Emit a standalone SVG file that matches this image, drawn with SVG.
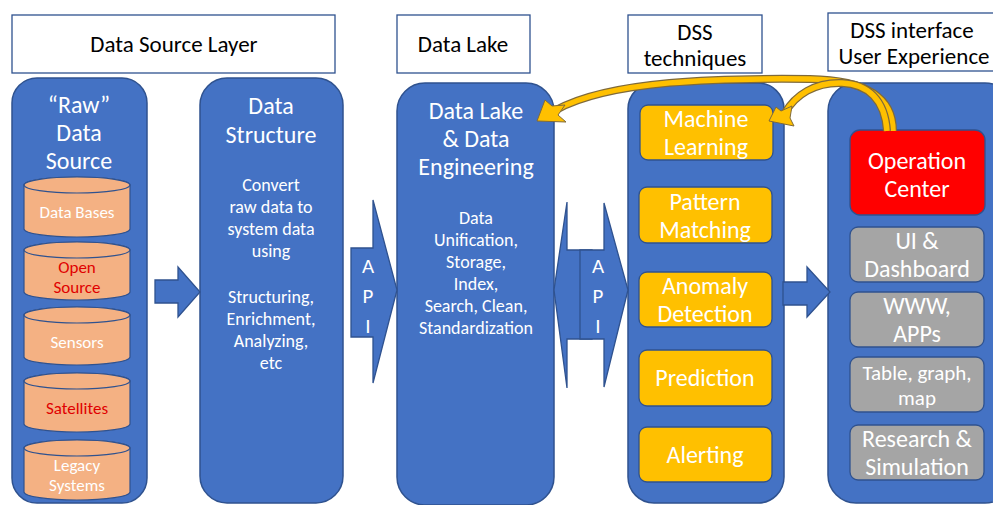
<svg xmlns="http://www.w3.org/2000/svg" width="993" height="505" viewBox="0 0 993 505">
<style>
.hdr{fill:#fff;stroke:#2F528F;stroke-width:1.3}
.col{fill:#4472C4;stroke:#2F528F;stroke-width:1.5}
.cyl{fill:#F4B183;stroke:#2F528F;stroke-width:1.2}
.yel{fill:#FFC000;stroke:#2F528F;stroke-width:1.3}
.gry{fill:#A5A5A5;stroke:#2F528F;stroke-width:1.3}
.red{fill:#FF0000;stroke:#2F528F;stroke-width:1.3}
.blk{fill:#4472C4;stroke:#2F528F;stroke-width:1.3}
text{font-family:Carlito,Lato,"Liberation Sans",sans-serif;text-anchor:middle}
.h{font-size:23px;fill:#000}
.t{font-size:24px;fill:#fff}
.b{font-size:18px;fill:#fff}
.c{font-size:17px;fill:#fff}
.cr{font-size:17px;fill:#E00000}
.k{font-size:24px;fill:#fff}
.api{font-size:21px;fill:#fff}
.ar1{fill:none;stroke:#7F6A3A;stroke-width:8;stroke-linecap:butt}
.ar2{fill:none;stroke:#FFC000;stroke-width:5.5;stroke-linecap:butt}
.ah{fill:#FFC000;stroke:#7F6A3A;stroke-width:1}
</style>

<g id="headers">
<g id="h-source"><rect class="hdr" x="12" y="15" width="323" height="58"/><text class="h" x="174" y="52">Data Source Layer</text></g>
<g id="h-lake"><rect class="hdr" x="397" y="15" width="133" height="58"/><text class="h" x="463" y="52">Data Lake</text></g>
<g id="h-dss"><rect class="hdr" x="628" y="15" width="134" height="58"/><text class="h" x="695" y="40">DSS</text><text class="h" x="695" y="66">techniques</text></g>
<g id="h-ui"><rect class="hdr" x="828" y="13" width="175" height="58"/><text class="h" x="912" y="38">DSS interface</text><text class="h" x="914" y="64">User Experience</text></g>
</g>

<g id="raw">
<rect class="col" x="12" y="78" width="135" height="425" rx="25"/>
<text class="t" x="79" y="113">“Raw”</text>
<text class="t" x="79" y="141">Data</text>
<text class="t" x="79" y="169">Source</text>
<g id="cyl-db"><path class="cyl" d="M24,185 A53,8 0 0 1 130,185 V229 A53,8 0 0 1 24,229 Z"/><ellipse class="cyl" cx="77" cy="185" rx="53" ry="8"/><text class="c" x="77" y="218">Data Bases</text></g>
<g id="cyl-os"><path class="cyl" d="M24,250 A53,8 0 0 1 130,250 V292 A53,8 0 0 1 24,292 Z"/><ellipse class="cyl" cx="77" cy="250" rx="53" ry="8"/><text class="cr" x="77" y="273">Open</text><text class="cr" x="77" y="293">Source</text></g>
<g id="cyl-sens"><path class="cyl" d="M24,315 A53,8 0 0 1 130,315 V357 A53,8 0 0 1 24,357 Z"/><ellipse class="cyl" cx="77" cy="315" rx="53" ry="8"/><text class="c" x="77" y="348">Sensors</text></g>
<g id="cyl-sat"><path class="cyl" d="M24,381 A53,8 0 0 1 130,381 V424 A53,8 0 0 1 24,424 Z"/><ellipse class="cyl" cx="77" cy="381" rx="53" ry="8"/><text class="cr" x="77" y="414">Satellites</text></g>
<g id="cyl-leg"><path class="cyl" d="M24,448 A53,8 0 0 1 130,448 V492 A53,8 0 0 1 24,492 Z"/><ellipse class="cyl" cx="77" cy="448" rx="53" ry="8"/><text class="c" x="77" y="471">Legacy</text><text class="c" x="77" y="491">Systems</text></g>
</g>

<g id="structure">
<rect class="col" x="200" y="78" width="143" height="425" rx="27"/>
<text class="t" x="271" y="114">Data</text>
<text class="t" x="271" y="143">Structure</text>
<text class="b" x="271" y="191">Convert</text>
<text class="b" x="271" y="213">raw data to</text>
<text class="b" x="271" y="235">system data</text>
<text class="b" x="271" y="257">using</text>
<text class="b" x="271" y="303">Structuring,</text>
<text class="b" x="271" y="325">Enrichment,</text>
<text class="b" x="271" y="347">Analyzing,</text>
<text class="b" x="271" y="369">etc</text>
</g>

<g id="lake">
<rect class="col" x="397" y="83" width="157" height="422" rx="28"/>
<text class="t" x="476" y="119">Data Lake</text>
<text class="t" x="476" y="147">&amp; Data</text>
<text class="t" x="476" y="175">Engineering</text>
<text class="b" x="476" y="224">Data</text>
<text class="b" x="476" y="246">Unification,</text>
<text class="b" x="476" y="268">Storage,</text>
<text class="b" x="476" y="290">Index,</text>
<text class="b" x="476" y="312">Search, Clean,</text>
<text class="b" x="476" y="334">Standardization</text>
</g>

<g id="dss">
<rect class="col" x="628" y="83" width="156" height="420" rx="26"/>
<g id="ml"><rect class="yel" x="640" y="105" width="133" height="55" rx="8"/><text class="k" x="706" y="127">Machine</text><text class="k" x="706" y="155">Learning</text></g>
<g id="pm"><rect class="yel" x="639" y="187" width="133" height="56" rx="8"/><text class="k" x="705" y="210">Pattern</text><text class="k" x="705" y="238">Matching</text></g>
<g id="ad"><rect class="yel" x="639" y="272" width="133" height="55" rx="8"/><text class="k" x="705" y="294">Anomaly</text><text class="k" x="705" y="322">Detection</text></g>
<g id="pr"><rect class="yel" x="639" y="350" width="133" height="56" rx="8"/><text class="k" x="705" y="386">Prediction</text></g>
<g id="al"><rect class="yel" x="639" y="427" width="133" height="55" rx="8"/><text class="k" x="705" y="463">Alerting</text></g>
</g>

<g id="ux">
<rect class="col" x="828" y="83" width="185" height="420" rx="28"/>
<g id="oc"><rect class="red" x="850" y="130" width="135" height="85" rx="10"/><text class="k" x="917" y="169">Operation</text><text class="k" x="917" y="197">Center</text></g>
<g id="ui"><rect class="gry" x="850" y="227" width="134" height="55" rx="8"/><text class="k" x="917" y="249">UI &amp;</text><text class="k" x="917" y="277">Dashboard</text></g>
<g id="www"><rect class="gry" x="850" y="292" width="134" height="55" rx="8"/><text class="k" x="917" y="314">WWW,</text><text class="k" x="917" y="342">APPs</text></g>
<g id="tbl"><rect class="gry" x="850" y="357" width="134" height="55" rx="8"/><text class="k" x="917" y="380" style="font-size:21px">Table, graph,</text><text class="k" x="917" y="405" style="font-size:21px">map</text></g>
<g id="rs"><rect class="gry" x="850" y="425" width="134" height="55" rx="8"/><text class="k" x="917" y="447">Research &amp;</text><text class="k" x="917" y="475">Simulation</text></g>
</g>

<g id="connectors">
<polygon class="blk" points="155,280 178,280 178,267 200,292 178,317 178,303 155,303"/>
<g id="api1"><polygon class="blk" points="351,248 373,248 373,200 397,290 373,383 373,337 351,337"/><text class="api" x="368" y="273">A</text><text class="api" x="368" y="303">P</text><text class="api" x="368" y="333">I</text></g>
<g id="api2"><polygon class="blk" points="554,290 567,202 567,250 592,250 592,339 567,339 567,388"/><polygon class="blk" points="580,250 604,250 604,203 628,290 604,387 604,339 580,339"/><text class="api" x="598" y="273">A</text><text class="api" x="598" y="303">P</text><text class="api" x="598" y="333">I</text></g>
<polygon class="blk" points="783,282 807,282 807,267 830,292 807,317 807,305 783,305"/>
<g id="curve-lake">
<path class="ar1" d="M893,131 C893,100 870,80 810,79 C720,78 610,80 556,110"/>
<path class="ar2" d="M893,131 C893,100 870,80 810,79 C720,78 610,80 556,110"/>
<polygon class="ah" points="537,121 545,100 552,106 565,105 558,115 566,122"/>
</g>
<g id="curve-ml">
<path class="ar1" d="M887,131 C885,100 868,84 842,83 C815,82 795,95 785,113"/>
<path class="ar2" d="M887,131 C885,100 868,84 842,83 C815,82 795,95 785,113"/>
<polygon class="ah" points="769,121 776,107 781,111 792,106 790,118 794,126"/>
</g>
</g>
</svg>
